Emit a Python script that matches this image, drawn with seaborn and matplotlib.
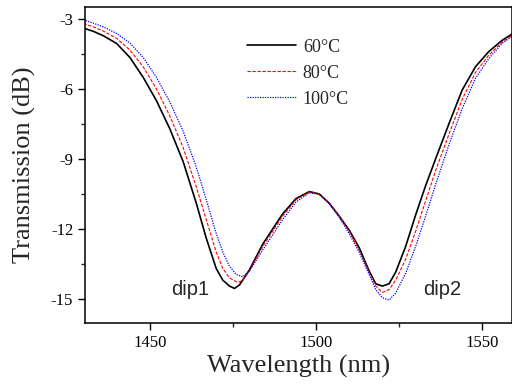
import matplotlib
matplotlib.use("Agg")
import matplotlib.pyplot as plt
import seaborn as sns
import pandas as pd
from matplotlib.ticker import MultipleLocator

# wavelength samples (nm)
wl_60 = [1430, 1433, 1436, 1440, 1444, 1448, 1452, 1456, 1460, 1464, 1467, 1470,
         1472, 1474, 1475.5, 1477, 1480, 1484, 1487, 1490, 1494, 1498, 1501, 1504,
         1507, 1510, 1513, 1516, 1518, 1520, 1522, 1524, 1527, 1530, 1533, 1536,
         1540, 1544, 1548, 1552, 1556, 1559]
t_60 = [-3.39, -3.53, -3.72, -4.05, -4.65, -5.5, -6.5, -7.7, -9.1, -10.9, -12.4, -13.7,
        -14.2, -14.45, -14.55, -14.4, -13.75, -12.65, -12.0, -11.35, -10.7, -10.4, -10.5, -10.9,
        -11.45, -12.05, -12.8, -13.8, -14.35, -14.45, -14.35, -13.85, -12.75, -11.4, -10.15, -9.0,
        -7.5, -6.05, -5.05, -4.4, -3.92, -3.65]

wl_80 = [1430, 1433, 1436, 1440, 1444, 1448, 1452, 1456, 1460, 1464, 1467, 1470,
         1472, 1474, 1476.5, 1478, 1480, 1484, 1487, 1490, 1494, 1498, 1501, 1504,
         1507, 1510, 1513, 1516, 1518, 1520, 1522, 1524, 1527, 1530, 1533, 1536,
         1540, 1544, 1548, 1552, 1556, 1559]
t_80 = [-3.2, -3.34, -3.52, -3.83, -4.33, -5.05, -6.0, -7.15, -8.5, -10.2, -11.6, -13.0,
        -13.7, -14.1, -14.3, -14.2, -13.8, -12.75, -12.1, -11.45, -10.75, -10.42, -10.5, -10.88,
        -11.45, -12.1, -12.9, -13.85, -14.45, -14.72, -14.6, -14.2, -13.3, -12.1, -10.8, -9.5,
        -7.95, -6.45, -5.3, -4.55, -4.0, -3.7]

wl_100 = [1430, 1433, 1436, 1440, 1444, 1448, 1452, 1456, 1460, 1464, 1467, 1470,
          1472, 1474, 1476, 1478, 1480, 1484, 1487, 1490, 1494, 1498, 1501, 1504,
          1507, 1510, 1513, 1516, 1518, 1520, 1522, 1524, 1527, 1530, 1533, 1536,
          1540, 1544, 1548, 1552, 1556, 1559]
t_100 = [-3.04, -3.18, -3.34, -3.62, -4.03, -4.65, -5.5, -6.55, -7.8, -9.35, -10.75, -12.2,
         -13.0, -13.6, -13.95, -14.05, -13.8, -12.9, -12.25, -11.6, -10.85, -10.45, -10.52, -10.92,
         -11.5, -12.2, -13.0, -13.95, -14.6, -14.95, -15.05, -14.75, -13.9, -12.75, -11.45, -10.1,
         -8.4, -6.85, -5.55, -4.7, -4.05, -3.75]

series = [
    ("60\u00b0C", wl_60, t_60, "black", "-", 1.2),
    ("80\u00b0C", wl_80, t_80, "red", (0, (3, 1.5)), 0.8),
    ("100\u00b0C", wl_100, t_100, "blue", (0, (1, 1)), 0.9),
]

sns.set_theme(style="ticks")
plt.rcParams["font.family"] = ["Liberation Serif", "DejaVu Serif"]
plt.rcParams["axes.linewidth"] = 1.1

fig = plt.figure(figsize=(5.12, 3.91), dpi=100)
ax = fig.add_axes([0.166, 0.174, 0.834, 0.808])

for name, wl, t, col, ls, lw in series:
    df = pd.DataFrame({"wl": wl, "t": t})
    sns.lineplot(data=df, x="wl", y="t", ax=ax, color=col, linestyle=ls,
                 linewidth=lw, label=name, sort=False)

ax.set_xlim(1430.5, 1559)
ax.set_ylim(-16.03, -2.49)
ax.xaxis.set_major_locator(MultipleLocator(50))
ax.xaxis.set_minor_locator(MultipleLocator(25))
ax.yaxis.set_major_locator(MultipleLocator(3))
ax.yaxis.set_minor_locator(MultipleLocator(1.5))
ax.tick_params(which="major", direction="out", length=5, width=1, labelsize=12,
               colors="black")
ax.tick_params(which="minor", direction="out", length=3, width=1)
ax.set_yticklabels([f"{v:g}" for v in ax.get_yticks()])

ax.set_xlabel("Wavelength (nm)", fontsize=19, labelpad=3)
ax.set_ylabel("Transmission (dB)", fontsize=19, labelpad=11)
for s in ax.spines.values():
    s.set_color("black")

ax.text(1462.2, -14.6, "dip1", fontsize=14.5, family="Liberation Sans",
        ha="center", va="center")
ax.text(1538.1, -14.6, "dip2", fontsize=14.5, family="Liberation Sans",
        ha="center", va="center")

ax.legend(loc="upper left", bbox_to_anchor=(0.379, 0.90), frameon=False,
          fontsize=13, handlelength=2.7, handletextpad=0.4, labelspacing=0.5,
          borderpad=0, borderaxespad=0)

fig.savefig("out.png", dpi=100)
